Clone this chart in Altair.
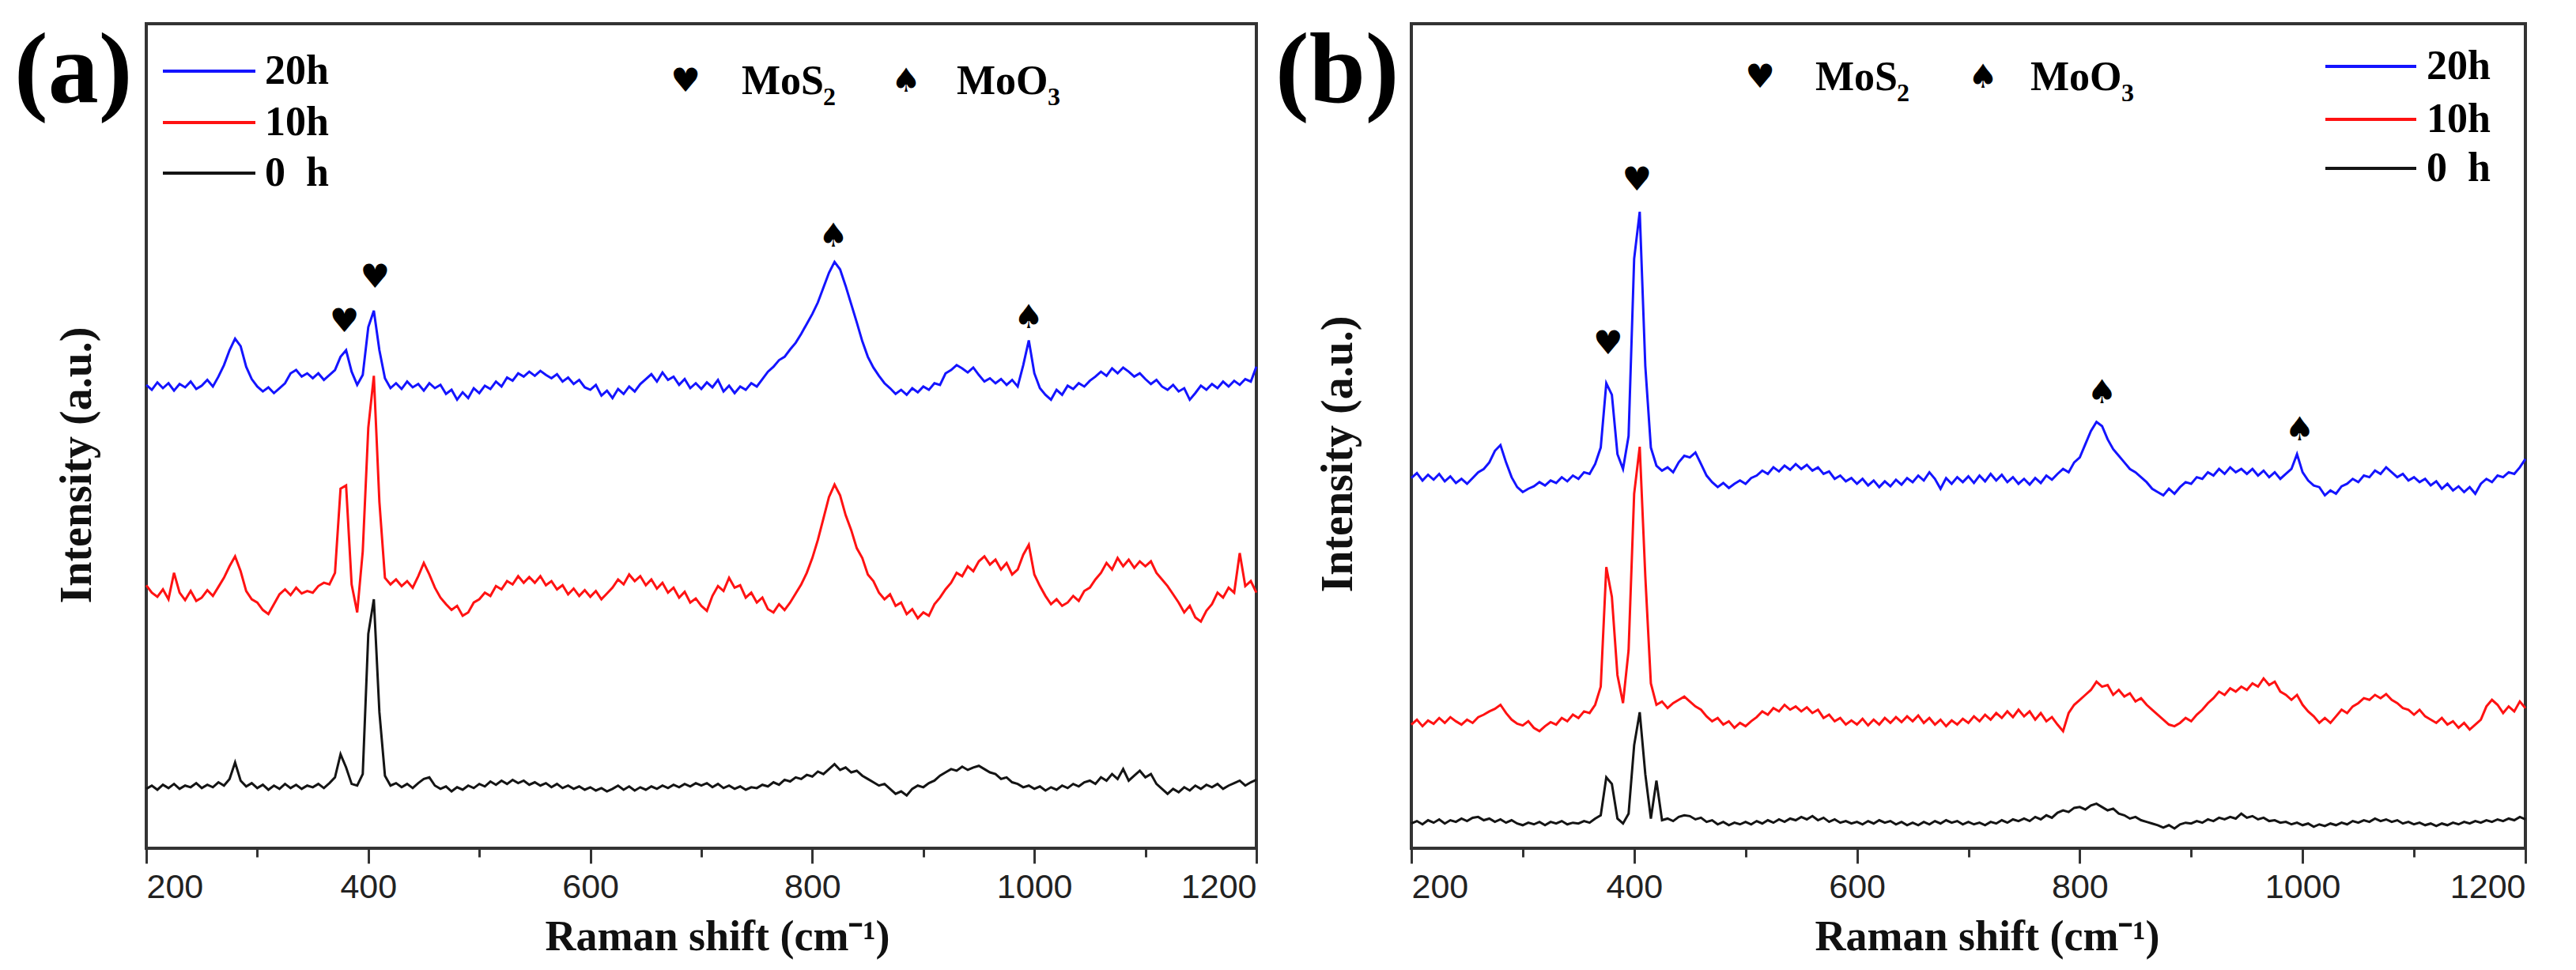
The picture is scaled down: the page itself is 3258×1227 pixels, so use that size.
import altair as alt
import pandas as pd

# ---------------- data ----------------
XS = list(range(200, 1201, 5))  # Raman shift sampling (cm-1)

SERIES = ["20h", "10h", "0\u00a0\u00a0h"]
COLORS = ["#1414ff", "#ff1212", "#141414"]

# panel (a)
A_20H = [
    56.2, 55.6, 56.5, 55.8, 56.4, 55.5, 56.3, 55.9, 56.6, 55.7,
    56.1, 56.8, 56.0, 57.2, 58.6, 60.4, 61.8, 60.9, 58.4, 56.9,
    56.0, 55.4, 55.9, 55.2, 55.8, 56.4, 57.6, 58.0, 57.2, 57.6,
    57.0, 57.6, 56.8, 57.4, 58.0, 59.6, 60.4, 57.8, 56.2, 57.4,
    63.2, 65.2, 60.4, 57.0, 55.8, 56.4, 55.7, 56.6, 55.9, 56.3,
    55.5, 56.4, 55.8, 56.2, 55.1, 55.6, 54.4, 55.3, 54.6, 55.8,
    55.2, 56.1, 55.7, 56.6, 56.0, 57.1, 56.7, 57.6, 57.2, 57.8,
    57.3, 57.9, 57.4, 57.0, 57.5, 56.6, 57.1, 56.3, 56.8, 55.9,
    55.6, 56.2, 54.9, 55.5, 54.6, 55.7, 55.1, 56.0, 55.4, 56.3,
    56.9, 57.5, 56.6, 57.7, 56.8, 57.2, 56.2, 56.9, 55.8, 56.4,
    55.7, 56.5, 55.9, 56.8, 55.4, 56.1, 55.2, 56.0, 55.6, 56.4,
    56.0, 56.9, 57.8, 58.4, 59.2, 59.6, 60.5, 61.3, 62.4, 63.6,
    64.8, 66.2, 68.0, 69.8, 71.1, 70.2, 68.2, 66.0, 63.8, 61.5,
    59.6, 58.3, 57.3, 56.4, 55.8, 55.1, 55.6, 55.0, 55.8, 55.3,
    56.0, 55.6, 56.4, 56.2, 57.6, 58.0, 58.6, 58.2, 57.7, 58.3,
    57.4, 56.6, 57.0, 56.4, 56.9, 56.2, 56.8, 56.0, 58.6, 61.6,
    57.6, 55.8, 55.0, 54.4, 55.6, 55.0, 56.1, 55.7, 56.4, 56.0,
    56.7, 57.2, 57.8, 57.3, 58.2, 57.6, 58.3, 57.8, 57.2, 57.6,
    56.9, 56.3, 56.8, 56.0, 55.6, 56.2, 55.4, 55.8, 54.4, 55.2,
    56.1, 55.6, 56.3, 55.8, 56.6, 56.0, 56.7, 56.2, 56.9, 56.6,
    58.4,
]
A_10H = [
    31.9, 31.0, 30.5, 31.4, 30.2, 33.4, 31.0, 30.1, 31.2, 30.0,
    30.4, 31.3, 30.6, 31.7, 32.8, 34.2, 35.4, 33.6, 31.2, 30.2,
    29.8, 28.9, 28.4, 29.6, 30.8, 31.4, 30.7, 31.6, 30.9, 31.2,
    31.0, 31.8, 32.2, 32.0, 33.4, 43.6, 44.0, 32.0, 28.6, 36.0,
    51.0, 57.3, 42.0, 32.8, 32.0, 32.6, 31.8, 32.4, 31.6, 33.0,
    34.6, 33.2, 31.6, 30.4, 29.6, 28.9, 29.4, 28.2, 28.6, 29.8,
    30.2, 31.0, 30.6, 31.8, 31.4, 32.4, 32.0, 33.0, 32.2, 32.9,
    32.2, 33.0, 31.9, 32.4, 31.4, 31.9, 30.8, 31.5, 30.6, 31.3,
    30.5, 31.2, 30.2, 30.9, 31.6, 32.6, 32.0, 33.2, 32.4, 33.0,
    31.9, 32.6, 31.5, 32.2, 31.0, 31.6, 30.4, 31.1, 29.8, 30.3,
    29.4, 28.8, 30.6, 31.8, 31.2, 32.8, 31.6, 31.9, 30.4, 31.0,
    29.8, 30.4, 29.0, 28.6, 29.6, 28.9, 29.8, 30.9, 32.0, 33.4,
    35.2, 37.4, 40.0, 42.6, 44.1, 42.8, 40.4, 38.6, 36.4, 35.2,
    33.2, 32.4, 31.0, 30.2, 30.8, 29.4, 29.8, 28.4, 29.0, 27.9,
    28.6, 28.2, 29.6, 30.4, 31.4, 32.2, 33.4, 33.0, 34.2, 33.6,
    34.8, 35.4, 34.4, 35.0, 33.8, 34.6, 33.2, 33.8, 35.6, 36.8,
    33.2, 31.8, 30.6, 29.6, 30.2, 29.4, 29.8, 30.6, 30.0, 31.2,
    31.6, 32.6, 33.4, 34.6, 33.8, 35.2, 34.2, 35.0, 34.0, 34.8,
    34.2, 34.8, 33.4, 32.6, 31.8, 30.8, 29.8, 28.6, 29.4, 28.0,
    27.5, 28.8, 29.6, 31.0, 30.4, 31.6, 31.0, 35.8, 31.8, 32.4,
    31.0,
]
A_0H = [
    7.2, 7.6, 7.1, 7.7, 7.3, 7.8, 7.2, 7.6, 7.4, 7.9,
    7.3, 7.7, 7.4, 8.0, 7.6, 8.4, 10.4, 8.2, 7.5, 7.9,
    7.3, 7.7, 7.1, 7.6, 7.2, 7.8, 7.3, 7.7, 7.2, 7.6,
    7.4, 7.8, 7.3, 7.9, 8.6, 11.4, 9.8, 7.8, 7.6, 9.0,
    26.0, 30.2, 16.5, 8.8, 7.6, 7.9, 7.4, 7.8, 7.3, 7.9,
    8.4, 8.6, 7.6, 7.2, 7.5, 6.9, 7.4, 7.1, 7.6, 7.3,
    7.8, 7.5, 8.1, 7.7, 8.2, 7.8, 8.3, 7.9, 8.2, 7.7,
    8.0, 7.6, 7.9, 7.4, 7.8, 7.3, 7.6, 7.2, 7.5, 7.1,
    7.4, 7.0, 7.3, 6.9, 7.2, 7.6, 7.1, 7.5, 7.0, 7.4,
    7.1, 7.5, 7.2, 7.6, 7.3, 7.7, 7.4, 7.8, 7.5, 7.9,
    7.6, 7.9, 7.4, 7.8, 7.3, 7.6, 7.2, 7.5, 7.1, 7.4,
    7.3, 7.7, 7.5, 8.0, 7.7, 8.3, 8.1, 8.6, 8.4, 8.9,
    8.7, 9.3, 9.0, 9.6, 10.2, 9.5, 9.8, 9.2, 9.4, 8.8,
    8.4, 8.0, 7.6, 7.8, 7.2, 6.6, 6.9, 6.4, 7.2, 7.6,
    7.4, 7.9, 8.2, 8.8, 9.2, 9.6, 9.4, 9.9, 9.5, 9.8,
    10.0, 9.6, 9.2, 9.0, 8.4, 8.6, 8.0, 7.8, 7.4, 7.6,
    7.2, 7.5, 7.0, 7.4, 7.1, 7.6, 7.3, 7.8, 7.5, 8.0,
    8.2, 7.8, 8.6, 8.2, 9.0, 8.4, 9.6, 8.2, 8.8, 9.4,
    8.6, 9.0, 7.8, 7.2, 6.6, 7.2, 6.8, 7.4, 7.0, 7.6,
    7.2, 7.7, 7.4, 7.8, 7.2, 7.6, 7.9, 8.2, 7.6, 8.0,
    8.3,
]

# panel (b)
B_20H = [
    44.9, 45.5, 44.6, 45.3, 44.7, 45.4, 44.5, 45.1, 44.3, 44.8,
    44.2, 44.9, 45.6, 46.0, 46.8, 48.2, 48.9, 46.8, 45.0, 43.8,
    43.2, 43.6, 43.9, 44.4, 44.0, 44.6, 44.3, 45.0, 44.5, 45.2,
    44.8, 45.6, 45.4, 46.6, 48.6, 56.4, 55.0, 47.8, 46.0, 50.0,
    71.5, 77.2, 58.5, 48.6, 46.4, 45.8, 46.2, 45.6, 46.8, 47.6,
    47.4, 48.0, 46.6, 45.2, 44.4, 43.8, 44.3, 43.7, 44.2, 44.6,
    44.2, 44.9, 45.2, 45.8, 45.4, 46.2, 45.7, 46.4, 45.9, 46.6,
    46.0, 46.5, 45.8, 46.2, 45.4, 45.7, 44.8, 45.2, 44.5, 44.9,
    44.2, 44.8, 44.0, 44.6, 43.8, 44.5, 43.9, 44.7, 44.1, 44.9,
    44.4, 45.2, 44.6, 45.6, 44.8, 43.6, 44.9, 44.2, 45.0, 44.4,
    45.1, 44.3, 45.2, 44.5, 45.4, 44.6, 45.3, 44.4, 45.0, 44.2,
    44.8, 44.1, 44.9, 44.3, 45.2, 44.7, 45.4, 46.0, 45.6, 46.8,
    47.4, 49.0, 50.6, 51.7, 51.2, 49.6, 48.4, 47.6, 46.8, 46.0,
    45.6, 45.0, 44.4, 43.6, 43.2, 42.8, 43.6, 43.0, 43.8, 44.4,
    44.2, 45.0, 44.8, 45.6, 45.2, 46.0, 45.4, 46.2, 45.6, 46.0,
    45.4, 46.0, 45.2, 45.8, 45.0, 45.6, 44.8, 45.4, 46.0, 47.8,
    45.6, 44.6, 44.0, 43.8, 42.8, 43.4, 43.0, 43.9, 44.2, 44.8,
    44.4, 45.2, 45.0, 45.8, 45.4, 46.2, 45.6, 45.0, 45.4, 44.6,
    45.0, 44.4, 44.8, 44.0, 44.5, 43.6, 44.2, 43.4, 43.9, 43.2,
    43.8, 43.0, 44.2, 44.8, 44.4, 45.2, 45.0, 45.6, 45.4, 46.2,
    47.2,
]
B_10H = [
    15.0, 15.6, 14.8, 15.5, 15.1, 15.8, 15.2, 15.9, 15.4, 15.0,
    15.6, 15.2, 15.9, 16.2, 16.6, 16.9, 17.4, 16.4, 15.6, 15.1,
    14.9, 15.4, 14.6, 14.2, 14.8, 15.3, 15.0, 15.8, 15.4, 16.2,
    15.8, 16.6, 16.4, 17.4, 19.6, 34.1, 30.5, 21.0, 17.6, 24.0,
    43.0, 48.7, 33.0, 20.0, 17.4, 17.8, 17.0, 17.6, 18.0, 18.4,
    17.8, 17.2, 16.8, 16.0, 15.4, 15.8, 15.0, 15.4, 14.6, 15.2,
    14.8, 15.4, 15.9, 16.6, 16.2, 17.0, 16.6, 17.4, 16.8, 17.2,
    16.6, 17.1, 16.4, 16.8, 15.8, 16.2, 15.4, 15.8, 15.0, 15.5,
    15.0, 15.7, 14.9, 15.6, 15.0, 15.8, 15.2, 15.9, 15.3, 16.0,
    15.4, 16.1, 15.2, 15.8, 15.0, 15.6, 14.8, 15.5, 15.0, 15.7,
    15.2, 16.0, 15.4, 16.2, 15.6, 16.4, 15.8, 16.6, 15.9, 16.8,
    16.0, 16.6, 15.6, 16.4, 15.4, 15.9, 15.0, 14.2, 16.4, 17.4,
    18.0, 18.6, 19.2, 20.2, 19.6, 19.8, 18.6, 19.2, 18.4, 18.8,
    17.8, 18.2, 17.4, 16.8, 16.2, 15.6, 15.0, 14.8, 15.2, 15.8,
    15.4, 16.2, 16.8, 17.6, 18.2, 19.0, 18.6, 19.4, 19.0, 19.6,
    19.2, 20.0, 19.6, 20.6, 19.8, 20.2, 19.0, 18.6, 18.0, 18.6,
    17.4, 16.6, 16.0, 15.2, 15.8, 15.2, 16.0, 16.8, 16.4, 17.2,
    17.6, 18.2, 18.0, 18.6, 18.2, 18.7, 18.0, 17.6, 17.0, 16.8,
    16.2, 16.8, 16.0, 15.6, 15.2, 15.8, 15.0, 15.4, 14.6, 15.2,
    14.4, 15.0, 15.6, 17.2, 18.0, 17.4, 16.4, 17.2, 16.6, 17.8,
    17.0,
]
B_0H = [
    3.0, 3.3, 2.9, 3.4, 3.1, 3.5, 3.0, 3.4, 3.2, 3.6,
    3.3, 3.7, 3.8, 3.4, 3.6, 3.2, 3.5, 3.1, 3.4, 3.0,
    2.8, 3.1, 2.9, 3.2, 2.8, 3.2, 3.0, 3.3, 2.9, 3.1,
    3.0, 3.3, 3.1, 3.6, 4.0, 8.6, 7.8, 3.6, 3.0, 4.2,
    12.5, 16.5, 9.0, 3.6, 8.2, 3.4, 3.6, 3.3, 3.8, 4.0,
    3.9, 3.5, 3.7, 3.2, 3.4, 2.9, 3.2, 2.8, 3.1, 2.9,
    3.2, 2.9, 3.3, 3.0, 3.4, 3.1, 3.5, 3.2, 3.6, 3.4,
    3.8, 3.5, 3.9, 3.4, 3.7, 3.2, 3.5, 3.1, 3.3, 3.0,
    3.2, 2.9, 3.3, 3.0, 3.4, 3.1, 3.3, 2.9, 3.2, 2.8,
    3.1, 2.8, 3.2, 2.9, 3.3, 3.0, 3.4, 3.1, 3.3, 2.9,
    3.2, 2.9, 3.1, 2.8, 3.2, 3.0, 3.4, 3.1, 3.5, 3.3,
    3.6, 3.3, 3.8, 3.5, 4.0, 3.7, 4.3, 4.6, 4.4, 4.9,
    5.0, 4.7, 5.2, 5.4, 5.0, 4.6, 4.8, 4.2, 4.0, 3.6,
    3.8, 3.4, 3.2, 3.0, 2.8, 2.5, 2.8, 2.4, 2.9, 3.1,
    3.0, 3.3, 3.1, 3.5, 3.3, 3.7, 3.5, 3.8, 3.6, 4.2,
    3.7, 3.9, 3.5, 3.7, 3.3, 3.4, 3.1, 3.2, 2.9, 3.1,
    2.8, 3.0, 2.6, 2.9, 2.7, 3.0, 2.8, 3.1, 2.9, 3.3,
    3.1, 3.4, 3.2, 3.6, 3.3, 3.5, 3.2, 3.4, 3.0, 3.2,
    2.9, 3.1, 2.8, 3.0, 2.7, 3.0, 2.8, 3.1, 2.9, 3.2,
    3.0, 3.3, 3.1, 3.4, 3.2, 3.5, 3.3, 3.6, 3.4, 3.8,
    3.5,
]

# peak markers (heart = MoS2, spade = MoO3)
A_MARK_X = [378.5, 406.0, 819.0, 995.0]
A_MARK_Y = [63.9, 69.2, 74.2, 64.3]
A_MARK_S = ["\u2665", "\u2665", "\u2660", "\u2660"]
B_MARK_X = [376.6, 402.5, 820.0, 997.5]
B_MARK_Y = [61.2, 81.0, 55.2, 50.7]
B_MARK_S = ["\u2665", "\u2665", "\u2660", "\u2660"]

TICKS = list(range(200, 1201, 100))
X_TITLE = "Raman shift (cm\u207b\u00b9)"
Y_TITLE = "Intensity (a.u.)"

SERIF = "Liberation Serif"
SANS = "Liberation Sans"
SYM = "DejaVu Sans"


def make_panel(series_vals, mx, my, ms, width, height, cfg):
    rows = []
    for name, vals in zip(SERIES, series_vals):
        for x, v in zip(XS, vals):
            rows.append({"series": name, "shift": x, "val": v})
    df = pd.DataFrame(rows)

    xs = alt.Scale(domain=[200, 1200], nice=False, zero=False)
    ys = alt.Scale(domain=[0, 100], nice=False, zero=False)
    x_axis = alt.Axis(
        values=TICKS,
        format="d",
        labelExpr="datum.value % 200 === 0 ? datum.label : ''",
        tickSize={"condition": {"test": "datum.value % 200 === 0", "value": 19}, "value": 11},
        tickWidth=3,
        tickColor="#333333",
        domain=False,
        grid=False,
        labelFont=SANS,
        labelFontSize=43,
        labelColor="#222222",
        labelPadding=9,
        title=X_TITLE,
        titleFont=SERIF,
        titleFontWeight="bold",
        titleFontSize=54,
        titleColor="#111111",
        titleX=cfg["xtitle_x"],
        titleY=128,
        titleAlign="center",
        titleBaseline="alphabetic",
    )
    y_axis = alt.Axis(
        labels=False,
        ticks=False,
        domain=False,
        grid=False,
        title=Y_TITLE,
        titleFont=SERIF,
        titleFontWeight="bold",
        titleFontSize=56,
        titleColor="#111111",
        titleAngle=270,
        titleX=cfg["ytitle_x"],
        titleY=cfg["ytitle_y"],
        titleAlign="center",
        titleBaseline="middle",
    )
    xe = alt.X("shift:Q", scale=xs, axis=x_axis)
    ye = alt.Y("val:Q", scale=ys, axis=y_axis)

    lines = alt.Chart(df).mark_line(strokeWidth=3).encode(
        x=xe,
        y=ye,
        color=alt.Color("series:N", scale=alt.Scale(domain=SERIES, range=COLORS), legend=None),
        order=alt.Order("shift:Q"),
    )

    mdf = pd.DataFrame({"shift": mx, "val": my, "sym": ms})
    marks = alt.Chart(mdf).mark_text(font=SYM, fontSize=42, color="black", baseline="middle").encode(
        x=xe, y=ye, text="sym:N"
    )

    one = pd.DataFrame({"k": [0]})
    layers = [lines, marks]

    # legend (line samples + labels)
    for i, (name, col) in enumerate(zip(SERIES, COLORS)):
        ly = cfg["leg_y"][i]
        layers.append(
            alt.Chart(one).mark_rule(color=col, strokeWidth=4).encode(
                x=alt.value(cfg["leg_x0"]), x2=alt.value(cfg["leg_x1"]), y=alt.value(ly)
            )
        )
        layers.append(
            alt.Chart(one).mark_text(
                align="left", baseline="middle", font=SERIF, fontWeight="bold",
                fontSize=52, color="black"
            ).encode(x=alt.value(cfg["leg_lx"]), y=alt.value(ly), text=alt.value(name))
        )

    # header annotation: heart MoS2, spade MoO3
    hy = cfg["head_y"]
    for sym, sx in [("\u2665", cfg["heart_x"]), ("\u2660", cfg["spade_x"])]:
        layers.append(
            alt.Chart(one).mark_text(align="center", baseline="middle", font=SYM, fontSize=42, color="black")
            .encode(x=alt.value(sx), y=alt.value(hy), text=alt.value(sym))
        )
    for txt, tx, sub, subx in [("MoS", cfg["mos_x"], "2", cfg["mos_x"] + 103),
                               ("MoO", cfg["moo_x"], "3", cfg["moo_x"] + 115)]:
        layers.append(
            alt.Chart(one).mark_text(align="left", baseline="middle", font=SERIF, fontWeight="bold",
                                     fontSize=52, color="black")
            .encode(x=alt.value(tx), y=alt.value(hy), text=alt.value(txt))
        )
        layers.append(
            alt.Chart(one).mark_text(align="left", baseline="middle", font=SERIF, fontWeight="bold",
                                     fontSize=32, color="black")
            .encode(x=alt.value(subx), y=alt.value(hy + 20), text=alt.value(sub))
        )

    # panel letter
    layers.append(
        alt.Chart(one).mark_text(align="left", baseline="alphabetic", font=SERIF, fontWeight="bold",
                                 fontSize=128, color="black")
        .encode(x=alt.value(cfg["letter_x"]), y=alt.value(99), text=alt.value(cfg["letter"]))
    )

    if cfg.get("anchor"):
        layers.append(
            alt.Chart(one).mark_rule(opacity=0, strokeWidth=0.01).encode(
                x=alt.value(-175), x2=alt.value(-175), y=alt.value(-20), y2=alt.value(-10)
            )
        )

    return alt.layer(*layers).properties(width=width, height=height)


cfg_a = dict(
    xtitle_x=722, ytitle_x=-88, ytitle_y=558,
    leg_x0=21, leg_x1=138, leg_lx=150, leg_y=[60, 125, 189],
    head_y=73, heart_x=682, mos_x=753, spade_x=961, moo_x=1025,
    letter="(a)", letter_x=-167, anchor=True,
)
cfg_b = dict(
    xtitle_x=728, ytitle_x=-93, ytitle_y=544,
    leg_x0=1156, leg_x1=1271, leg_lx=1284, leg_y=[54, 121, 183],
    head_y=68, heart_x=441, mos_x=511, spade_x=723, moo_x=783,
    letter="(b)", letter_x=-172, anchor=False,
)

panel_a = make_panel([A_20H, A_10H, A_0H], A_MARK_X, A_MARK_Y, A_MARK_S, 1404, 1043, cfg_a)
panel_b = make_panel([B_20H, B_10H, B_0H], B_MARK_X, B_MARK_Y, B_MARK_S, 1409, 1043, cfg_b)

chart = (
    alt.hconcat(panel_a, panel_b, spacing=196, bounds="flush")
    .properties(padding=0, background="white")
    .configure_view(stroke="#333333", strokeWidth=4)
)

chart.save("out.html", embed_options={"renderer": "svg", "actions": False})
